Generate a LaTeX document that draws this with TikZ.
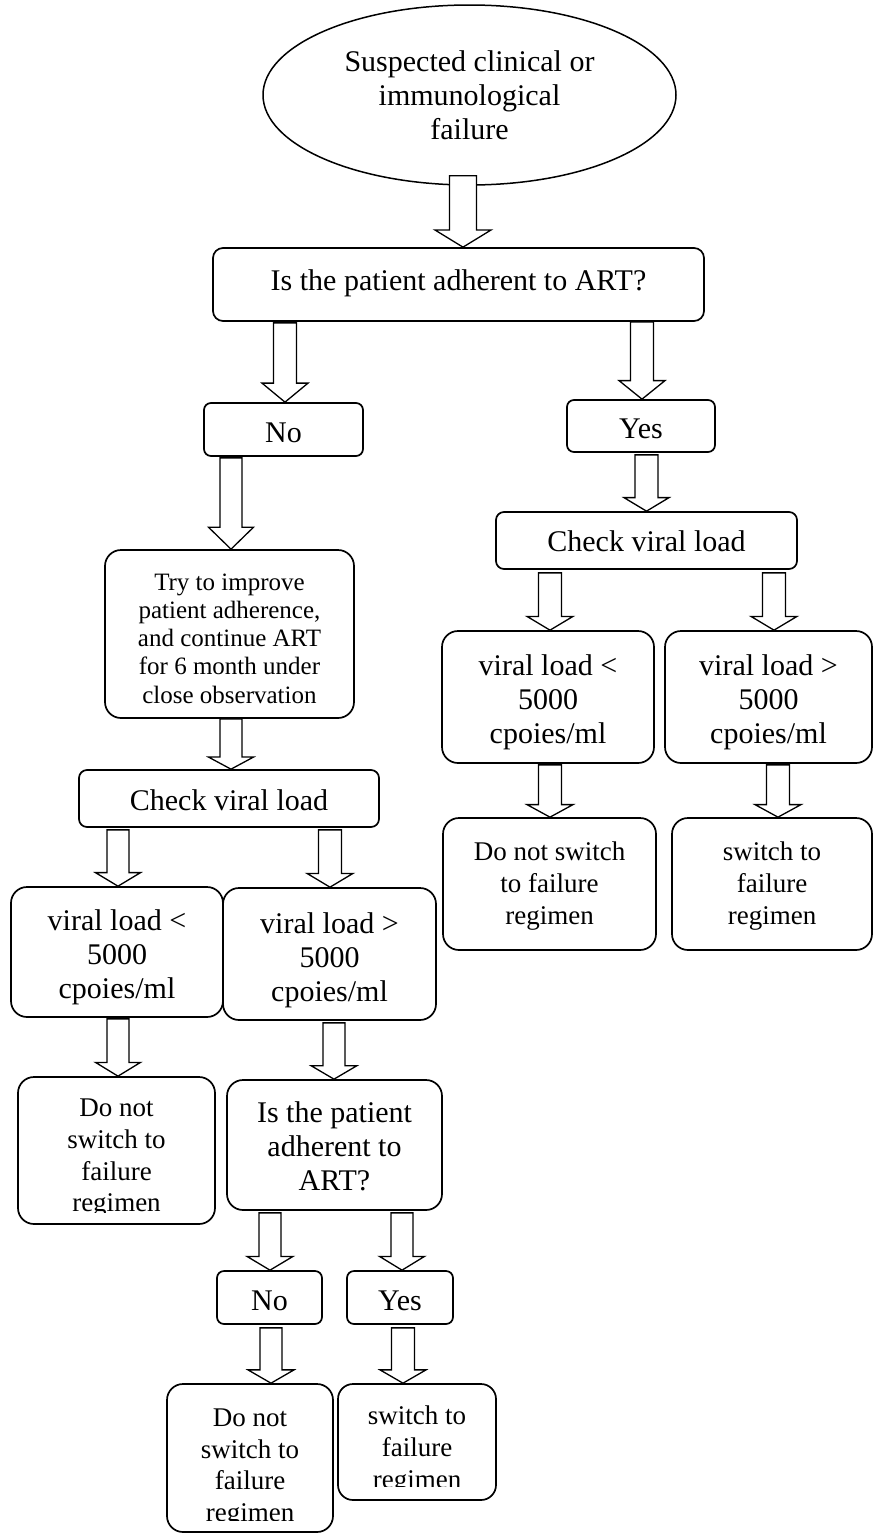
\documentclass[tikz,border=0pt]{standalone}
\usepackage{fontspec}
\setmainfont{Liberation Serif}
\usetikzlibrary{shapes.geometric,calc}
\newcommand\fbig{\fontsize{30}{34}\selectfont}
\newcommand\fmid{\fontsize{27}{31.7}\selectfont}
\newcommand\fsml{\fontsize{25}{28.3}\selectfont}
% block arrow: #1 source node, #2 target node, #3 x position (px), #4 tail offset below source, #5 half shaft, #6 half head
\newcommand\barrow[6]{%
  \draw[blockarrow] let \p1=(#1.south), \p2=(#2.north), \p3=(#3,0) in
   ({\x3-#5pt},{\y1-(#4pt)}) -- ({\x3+#5pt},{\y1-(#4pt)})
   -- ({\x3+#5pt},{\y2+0.24*(\y1-(#4pt)-\y2)})
   -- ({\x3+#6pt},{\y2+0.24*(\y1-(#4pt)-\y2)})
   -- (\x3,\y2)
   -- ({\x3-#6pt},{\y2+0.24*(\y1-(#4pt)-\y2)})
   -- ({\x3-#5pt},{\y2+0.24*(\y1-(#4pt)-\y2)}) -- cycle;}
\tikzset{
  rbox/.style={draw, line width=1.7pt, rounded corners=#1, fill=white, inner sep=0pt},
  rbox/.default=10pt,
  txt/.style={align=center, inner sep=0pt, font=\fbig},
  blockarrow/.style={draw, line width=1.3pt, fill=white, line join=miter},
}
\begin{document}
\begin{tikzpicture}[x=1pt,y=-1pt]
\useasboundingbox (0,0) rectangle (874,1534);
\fill[white] (0,0) rectangle (874,1534);

% boxes
\node[ellipse, draw, line width=1.5pt, fill=white, inner sep=0pt, align=center, font=\fbig,
      minimum width=413pt, minimum height=180pt] (ell) at (469.5,95)
      {Suspected clinical or\\immunological\\failure};
\node[rbox=10pt, minimum width=491pt, minimum height=73pt] (q1) at (458.5,284.5) {};
\node[rbox=7pt, minimum width=159pt, minimum height=53pt] (no1) at (283.5,429.5) {};
\node[rbox=7pt, minimum width=148pt, minimum height=52pt] (yes1) at (641,426) {};
\node[rbox=16pt, minimum width=249pt, minimum height=168pt] (try) at (229.5,634) {};
\node[rbox=8pt, minimum width=300pt, minimum height=57pt] (cvlL) at (229,798.5) {};
\node[rbox=8pt, minimum width=301pt, minimum height=57pt] (cvlR) at (646.5,540.5) {};
\node[rbox=16pt, minimum width=212pt, minimum height=132pt] (vlRlt) at (548,697) {};
\node[rbox=16pt, minimum width=207pt, minimum height=132pt] (vlRgt) at (768.5,697) {};
\node[rbox=16pt, minimum width=213pt, minimum height=132pt] (dnsR) at (549.5,884) {};
\node[rbox=16pt, minimum width=200pt, minimum height=132pt] (swR) at (772,884) {};
\node[rbox=16pt, minimum width=212pt, minimum height=130pt] (vlLlt) at (117,952) {};
\node[rbox=16pt, minimum width=213pt, minimum height=132pt] (vlLgt) at (329.5,954) {};
\node[rbox=16pt, minimum width=197pt, minimum height=147pt] (dnsL) at (116.5,1150.5) {};
\node[rbox=16pt, minimum width=215pt, minimum height=130pt] (isL) at (334.5,1145) {};
\node[rbox=7pt, minimum width=105pt, minimum height=53pt] (no2) at (269.5,1297.5) {};
\node[rbox=7pt, minimum width=106pt, minimum height=53pt] (yes2) at (400,1297.5) {};
\node[rbox=16pt, minimum width=166pt, minimum height=148pt] (dnsB) at (250,1458) {};
\node[rbox=15pt, minimum width=158pt, minimum height=116pt] (swB) at (417,1442) {};

% texts
\node[txt] (q1t) at (458.5,283) {Is the patient adherent to ART?};
\node[txt] (no1t) at (283.5,433) {No};
\node[txt] (yes1t) at (641,428.5) {Yes};
\node[txt, font=\fsml] (tryt) at (229.5,638.5)
      {Try to improve\\patient adherence,\\and continue ART\\for 6 month under\\close observation};
\node[txt] (cvlLt) at (229,800.5) {Check viral load};
\node[txt] (cvlRt) at (646.5,541.5) {Check viral load};
\node[txt] (vlRltt) at (548,702) {viral load <\\5000\\cpoies/ml};
\node[txt] (vlRgtt) at (768.5,702) {viral load >\\5000\\cpoies/ml};
\node[txt, font=\fmid] (dnsRt) at (549.5,886) {Do not switch\\to failure\\regimen};
\node[txt, font=\fmid] (swRt) at (772,886) {switch to\\failure\\regimen};
\node[txt] (vlLltt) at (117,957) {viral load <\\5000\\cpoies/ml};
\node[txt] (vlLgtt) at (329.5,960) {viral load >\\5000\\cpoies/ml};
\begin{scope}
  \clip (18,1070) rectangle (215,1212);
  \node[txt, font=\fmid] (dnsLt) at (116.5,1158.5) {Do not\\switch to\\failure\\regimen};
\end{scope}
\node[txt] (isLt) at (334.5,1146) {Is the patient\\adherent to\\ART?};
\node[txt] (no2t) at (269.5,1300.5) {No};
\node[txt] (yes2t) at (400,1300.5) {Yes};
\begin{scope}
  \clip (167,1380) rectangle (333,1520);
  \node[txt, font=\fmid] (dnsBt) at (250,1468) {Do not\\switch to\\failure\\regimen};
\end{scope}
\begin{scope}
  \clip (338,1380) rectangle (496,1486);
  \node[txt, font=\fmid] (swBt) at (417,1450) {switch to\\failure\\regimen};
\end{scope}

% block arrows
\barrow{ell}{q1}{463}{-10}{13.5}{28}
\barrow{q1}{no1}{285}{1}{11.5}{23}
\barrow{q1}{yes1}{642}{0}{11.5}{23}
\barrow{no1}{try}{231}{1}{11}{22.5}
\barrow{yes1}{cvlR}{646.5}{2}{11.5}{22.5}
\barrow{try}{cvlL}{231}{0}{11}{22.5}
\barrow{cvlR}{vlRlt}{550}{3}{11.5}{23}
\barrow{cvlR}{vlRgt}{774}{3}{11.5}{23}
\barrow{cvlL}{vlLlt}{118}{2}{11}{22.5}
\barrow{cvlL}{vlLgt}{330}{2}{11.5}{23}
\barrow{vlRlt}{dnsR}{550}{1}{11.5}{23}
\barrow{vlRgt}{swR}{778}{1}{11.5}{23}
\barrow{vlLlt}{dnsL}{118}{1}{11}{22.5}
\barrow{vlLgt}{isL}{334}{2}{11}{23}
\barrow{isL}{no2}{270}{2}{11}{23}
\barrow{isL}{yes2}{402}{2}{11}{22.5}
\barrow{no2}{dnsB}{271}{3}{11}{23}
\barrow{yes2}{swB}{403}{3}{11.5}{23}
\end{tikzpicture}
\end{document}
